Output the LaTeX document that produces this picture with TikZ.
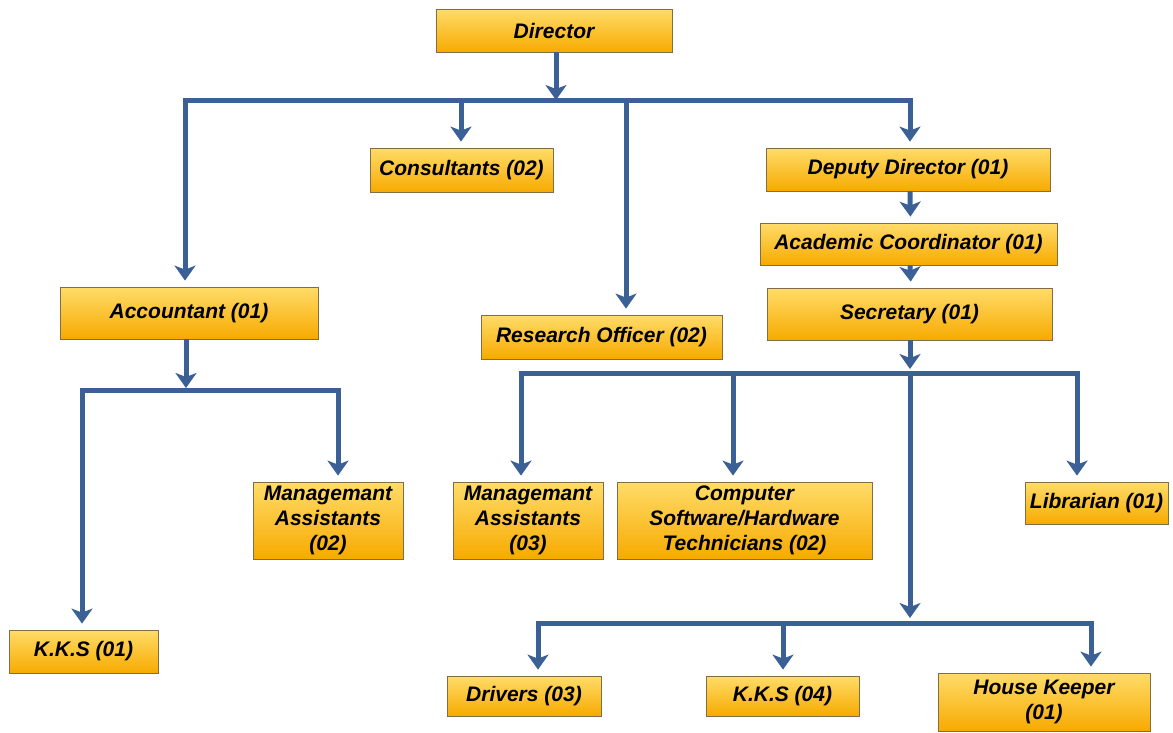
\documentclass[tikz,border=0pt]{standalone}
\usepackage{fontspec}
\setmainfont{Liberation Sans}
\usetikzlibrary{arrows.meta}
\definecolor{linecol}{RGB}{59,96,150}
\definecolor{boxtop}{RGB}{255,220,105}
\definecolor{boxbot}{RGB}{247,170,0}
\definecolor{boxedge}{RGB}{130,110,70}
\tikzset{
  orgbox/.style={draw=boxedge, line width=0.8pt, top color=boxtop, bottom color=boxbot,
    inner sep=2pt, align=center, font=\bfseries\itshape\fontsize{21}{25}\selectfont},
  conn/.style={draw=linecol, line width=5pt},
  arr/.style={conn, -{Stealth[width=21pt,length=15pt,inset=4pt]}, shorten >=6pt},
}
\begin{document}
\begin{tikzpicture}[x=1pt,y=-1pt]
\useasboundingbox (0,0) rectangle (1173,732);
% boxes
\node[orgbox, minimum width=236pt, minimum height=43pt] (dir) at (554,30.5) {Director};
\node[orgbox, minimum width=183pt, minimum height=44pt] (cons) at (461.5,170) {Consultants (02)};
\node[orgbox, minimum width=284pt, minimum height=43pt] (dep) at (908,169.5) {Deputy Director (01)};
\node[orgbox, minimum width=297pt, minimum height=42pt] (acad) at (908.5,244) {Academic Coordinator (01)};
\node[orgbox, minimum width=285pt, minimum height=52pt] (sec) at (909.5,314) {Secretary (01)};
\node[orgbox, minimum width=258pt, minimum height=52pt] (acc) at (189,313) {Accountant (01)};
\node[orgbox, minimum width=241pt, minimum height=44pt] (ro) at (601.5,337) {Research Officer (02)};
\node[orgbox, minimum width=150pt, minimum height=77pt] (ma2) at (328,520.5) {Managemant\\Assistants\\(02)};
\node[orgbox, minimum width=150pt, minimum height=77pt] (ma3) at (528,520.5) {Managemant\\Assistants\\(03)};
\node[orgbox, minimum width=255pt, minimum height=77pt] (comp) at (744.5,520.5) {Computer\\Software/Hardware\\Technicians (02)};
\node[orgbox, minimum width=143pt, minimum height=42pt] (lib) at (1096.5,503) {Librarian (01)};
\node[orgbox, minimum width=149pt, minimum height=43pt] (kks1) at (83.5,651.5) {K.K.S (01)};
\node[orgbox, minimum width=154pt, minimum height=40pt] (drv) at (524,696) {Drivers (03)};
\node[orgbox, minimum width=153pt, minimum height=40pt] (kks4) at (782.5,696) {K.K.S (04)};
\node[orgbox, minimum width=212pt, minimum height=58pt] (hk) at (1044,702) {House Keeper\\(01)};
% bus coordinates
\coordinate (b1) at (556,100);
\coordinate (b1a) at (185,100);
\coordinate (b1c) at (461,100);
\coordinate (b1r) at (626,100);
\coordinate (b1d) at (910,100);
\coordinate (b2) at (186,390);
\coordinate (b2k) at (82,390);
\coordinate (b2m) at (338,390);
\coordinate (b3) at (910,373);
\coordinate (b3m) at (521,373);
\coordinate (b3c) at (733,373);
\coordinate (b3l) at (1077,373);
\coordinate (b4) at (910,623);
\coordinate (b4d) at (538,623);
\coordinate (b4k) at (783,623);
\coordinate (b4h) at (1091,623);
% director level
\draw[arr, shorten >=0pt] ([xshift=2pt]dir.south) -- (b1);
\draw[conn, line cap=rect] (b1a) -- (b1d);
\draw[arr] (b1a) -- (b1a |- acc.north);
\draw[arr] (b1c) -- (b1c |- cons.north);
\draw[arr] (b1r) -- (b1r |- ro.north);
\draw[arr] (b1d) -- (b1d |- dep.north);
% deputy chain
\draw[arr] ([xshift=2pt]dep.south) -- ([xshift=2pt]acad.north);
\draw[arr] ([xshift=1.5pt]acad.south) -- ([xshift=1.5pt]sec.north);
% accountant
\draw[arr, shorten >=0pt] (acc.south -| b2) -- ([yshift=2pt]b2);
\draw[conn, line cap=rect] (b2k) -- (b2m);
\draw[arr] (b2k) -- (b2k |- kks1.north) ;
\draw[arr] (b2m) -- (b2m |- ma2.north);
% secretary
\draw[arr, shorten >=0pt] (sec.south -| b3) -- ([yshift=4pt]b3);
\draw[conn, line cap=rect] (b3m) -- (b3l);
\draw[arr] (b3m) -- (b3m |- ma3.north);
\draw[arr] (b3c) -- (b3c |- comp.north);
\draw[arr] (b3l) -- (b3l |- lib.north);
\draw[arr, shorten >=0pt] (b3) -- ([yshift=5pt]b4);
\draw[conn, line cap=rect] (b4d) -- (b4h);
\draw[arr] (b4d) -- (b4d |- drv.north);
\draw[arr] (b4k) -- (b4k |- kks4.north);
\draw[arr] (b4h) -- (b4h |- hk.north);
\end{tikzpicture}
\end{document}
